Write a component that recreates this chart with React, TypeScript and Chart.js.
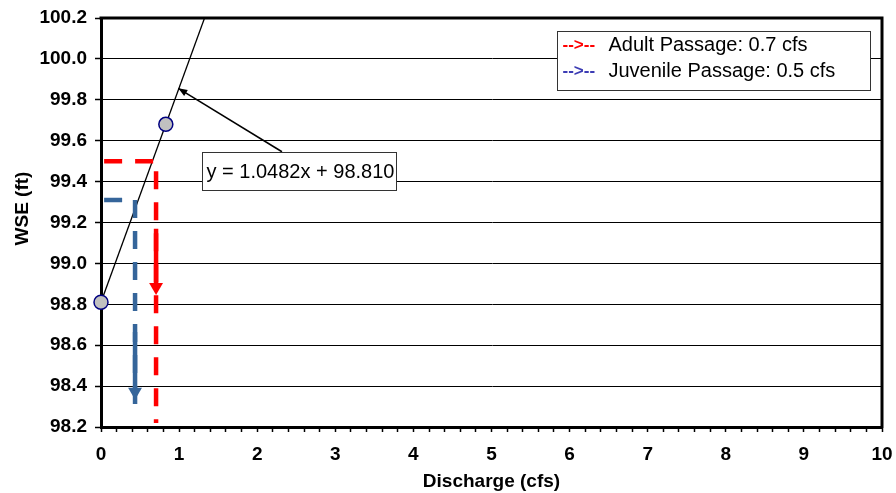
import React, { useEffect, useRef } from 'react';
import { Chart, registerables } from 'chart.js';

Chart.register(...registerables);

// ---- data ----
const measuredX = [0, 0.83];
const measuredY = [98.81, 99.68];

// trendline y = 1.0482x + 98.810 (endpoints; clipped at top of plot)
const trendX = [0, 1.4];
const trendY = [98.81, 100.2775];

// dashed guide lines
const adultX = [0.04, 0.705, 0.705];
const adultY = [99.5, 99.5, 98.22];
const juvX = [0.04, 0.436, 0.436];
const juvY = [99.31, 99.31, 98.26];

// solid arrow shafts and arrowheads
const adultShaftX = [0.705, 0.705];
const adultShaftY = [99.17, 98.88];
const adultArrowX = [0.705];
const adultArrowY = [98.885];
const juvShaftX = [0.436, 0.436];
const juvShaftY = [98.665, 98.37];
const juvArrowX = [0.436];
const juvArrowY = [98.372];

const xMin = 0;
const xMax = 10;
const xStep = 0.2;
const yMin = 98.2;
const yMax = 100.2;
const yStep = 0.2;

const xTitle = 'Discharge (cfs)';
const yTitle = 'WSE (ft)';
const legendMarkers = ['-->--', '-->--'];
const legendLabels = ['Adult Passage: 0.7 cfs', 'Juvenile Passage: 0.5 cfs'];
const equationText = 'y = 1.0482x + 98.810';
const eqBoxX = [1.29, 3.78];
const eqBoxY = [99.547, 99.36];
const calloutX = [2.317, 0.99];
const calloutY = [99.546, 99.856];

const RED = '#FF0000';
const BLUE = '#35659A';
const LEGEND_BLUE = '#3C3CB4';
const FONT = '"Liberation Sans", Arial, sans-serif';

const pts = (xs: number[], ys: number[]) => xs.map((x, i) => ({ x, y: ys[i] }));

const decorPlugin = {
  id: 'decor',
  beforeDatasetsDraw(chart: any) {
    const { ctx, chartArea } = chart;
    ctx.save();
    ctx.strokeStyle = '#000';
    ctx.lineWidth = 3;
    ctx.beginPath();
    ctx.moveTo(chartArea.left - 1.5, chartArea.top);
    ctx.lineTo(chartArea.right, chartArea.top);
    ctx.lineTo(chartArea.right, chartArea.bottom + 1.5);
    ctx.stroke();
    ctx.restore();
  },
  afterDatasetsDraw(chart: any) {
    const { ctx, chartArea, scales } = chart;
    const xs = scales.x;
    const ys = scales.y;
    ctx.save();

    // callout arrow
    const x0 = xs.getPixelForValue(calloutX[0]);
    const y0 = ys.getPixelForValue(calloutY[0]);
    const x1 = xs.getPixelForValue(calloutX[1]);
    const y1 = ys.getPixelForValue(calloutY[1]);
    ctx.strokeStyle = '#000';
    ctx.fillStyle = '#000';
    ctx.lineWidth = 1.5;
    ctx.beginPath();
    ctx.moveTo(x0, y0);
    ctx.lineTo(x1, y1);
    ctx.stroke();
    const ang = Math.atan2(y1 - y0, x1 - x0);
    const hl = 9;
    const hw = 3.5;
    ctx.beginPath();
    ctx.moveTo(x1, y1);
    ctx.lineTo(x1 - hl * Math.cos(ang) + hw * Math.sin(ang), y1 - hl * Math.sin(ang) - hw * Math.cos(ang));
    ctx.lineTo(x1 - hl * Math.cos(ang) - hw * Math.sin(ang), y1 - hl * Math.sin(ang) + hw * Math.cos(ang));
    ctx.closePath();
    ctx.fill();

    // equation box
    const bx1 = Math.round(xs.getPixelForValue(eqBoxX[0])) + 0.5;
    const bx2 = Math.round(xs.getPixelForValue(eqBoxX[1])) + 0.5;
    const by1 = Math.round(ys.getPixelForValue(eqBoxY[0])) + 0.5;
    const by2 = Math.round(ys.getPixelForValue(eqBoxY[1])) + 0.5;
    ctx.fillStyle = '#fff';
    ctx.fillRect(bx1, by1, bx2 - bx1, by2 - by1);
    ctx.strokeStyle = '#333';
    ctx.lineWidth = 1;
    ctx.strokeRect(bx1, by1, bx2 - bx1, by2 - by1);
    ctx.fillStyle = '#000';
    ctx.font = `20px ${FONT}`;
    ctx.textBaseline = 'middle';
    ctx.textAlign = 'left';
    ctx.fillText(equationText, bx1 + 4, (by1 + by2) / 2 + 1);

    // legend box
    const lw = 313;
    const lh = 59;
    const lx = Math.round(chartArea.right - 325) + 0.5;
    const ly = Math.round(chartArea.top + 13) + 0.5;
    ctx.fillStyle = '#fff';
    ctx.fillRect(lx, ly, lw, lh);
    ctx.strokeStyle = '#333';
    ctx.strokeRect(lx, ly, lw, lh);
    const colors = [RED, LEGEND_BLUE];
    legendLabels.forEach((lab, i) => {
      const cy = ly + 14 + i * 26;
      ctx.font = `bold 17px ${FONT}`;
      ctx.fillStyle = colors[i];
      ctx.fillText(legendMarkers[i], lx + 5, cy);
      ctx.font = `20px ${FONT}`;
      ctx.fillStyle = '#000';
      ctx.fillText(lab, lx + 51, cy);
    });

    // y title
    ctx.save();
    ctx.translate(chartArea.left - 78, (chartArea.top + chartArea.bottom) / 2 - 14);
    ctx.rotate(-Math.PI / 2);
    ctx.font = `bold 19px ${FONT}`;
    ctx.fillStyle = '#000';
    ctx.textAlign = 'center';
    ctx.textBaseline = 'middle';
    ctx.fillText(yTitle, 0, 0);
    ctx.restore();

    ctx.restore();
  },
};

export default function App() {
  const ref = useRef<HTMLCanvasElement>(null);
  useEffect(() => {
    if (!ref.current) return;
    Chart.defaults.font.family = FONT;
    const chart = new Chart(ref.current, {
      type: 'scatter',
      data: {
        datasets: [
          {
            label: 'Measured',
            data: pts(measuredX, measuredY),
            showLine: false,
            pointRadius: 7,
            pointBackgroundColor: '#C0C0C0',
            pointBorderColor: '#000080',
            pointBorderWidth: 1.5,
            order: 0,
            clip: false,
          } as any,
          {
            label: 'adultArrow',
            data: pts(adultArrowX, adultArrowY),
            showLine: false,
            pointStyle: 'triangle',
            rotation: 180,
            pointRadius: 8,
            pointBackgroundColor: RED,
            pointBorderWidth: 0,
            order: 1,
          } as any,
          {
            label: 'juvArrow',
            data: pts(juvArrowX, juvArrowY),
            showLine: false,
            pointStyle: 'triangle',
            rotation: 180,
            pointRadius: 8,
            pointBackgroundColor: BLUE,
            pointBorderWidth: 0,
            order: 1,
          } as any,
          {
            label: 'adultShaft',
            data: pts(adultShaftX, adultShaftY),
            showLine: true,
            borderColor: RED,
            borderWidth: 4.5,
            pointRadius: 0,
            order: 1,
          } as any,
          {
            label: 'juvShaft',
            data: pts(juvShaftX, juvShaftY),
            showLine: true,
            borderColor: BLUE,
            borderWidth: 4.5,
            pointRadius: 0,
            order: 1,
          } as any,
          {
            label: 'Adult',
            data: pts(adultX, adultY),
            showLine: true,
            borderColor: RED,
            borderWidth: 4.5,
            borderDash: [18, 13],
            pointRadius: 0,
            order: 2,
          } as any,
          {
            label: 'Juvenile',
            data: pts(juvX, juvY),
            showLine: true,
            borderColor: BLUE,
            borderWidth: 4.5,
            borderDash: [18, 13],
            pointRadius: 0,
            order: 2,
          } as any,
          {
            label: 'Trend',
            data: pts(trendX, trendY),
            showLine: true,
            borderColor: '#000',
            borderWidth: 1.3,
            pointRadius: 0,
            order: 3,
          } as any,
        ],
      },
      options: {
        responsive: false,
        animation: false,
        layout: { padding: { top: 18, right: 14, left: 0, bottom: 0 } },
        plugins: {
          legend: { display: false },
          tooltip: { enabled: false },
        },
        scales: {
          x: {
            type: 'linear',
            min: xMin,
            max: xMax,
            afterFit: (s: any) => {
              s.height = 66;
              s.paddingLeft = 0;
              s.paddingRight = 0;
            },
            ticks: {
              stepSize: xStep,
              autoSkip: false,
              maxRotation: 0,
              color: '#000',
              padding: 11,
              font: { size: 19, weight: 'bold' },
              callback: (v: any) => {
                const n = Number(v);
                return Math.abs(n - Math.round(n)) < 1e-6 ? String(Math.round(n)) : '';
              },
            },
            grid: {
              drawOnChartArea: false,
              drawTicks: true,
              tickLength: 5,
              tickColor: '#000',
              tickWidth: 1.5,
            },
            border: { display: true, width: 3, color: '#000' },
            title: {
              display: true,
              text: xTitle,
              color: '#000',
              font: { size: 19, weight: 'bold' },
              padding: { top: 0, bottom: 0 },
            },
          },
          y: {
            type: 'linear',
            min: yMin,
            max: yMax,
            afterFit: (s: any) => {
              s.width = 101;
              s.paddingTop = 0;
              s.paddingBottom = 0;
            },
            ticks: {
              stepSize: yStep,
              color: '#000',
              padding: 8,
              font: { size: 19, weight: 'bold' },
              callback: (v: any) => Number(v).toFixed(1),
            },
            grid: {
              color: '#000',
              lineWidth: 1,
              drawTicks: true,
              tickLength: 6,
              tickColor: '#000',
              tickWidth: 1.5,
            },
            border: { display: true, width: 3, color: '#000' },
          },
        },
      },
      plugins: [decorPlugin],
    });
    return () => chart.destroy();
  }, []);

  return (
    <div style={{ position: 'fixed', left: 0, top: 0, width: 896, height: 493, background: '#fff' }}>
      <canvas ref={ref} width={896} height={493} style={{ width: 896, height: 493 }} />
    </div>
  );
}
